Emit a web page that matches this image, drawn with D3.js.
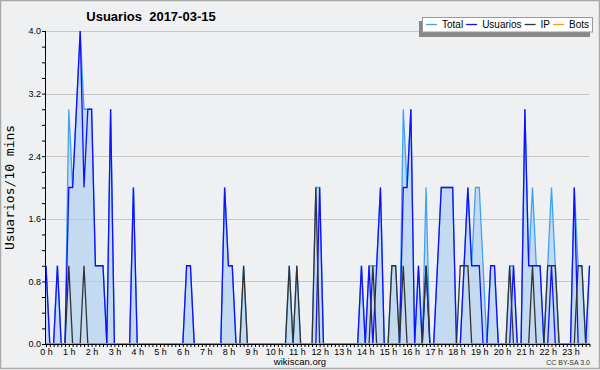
<!DOCTYPE html>
<html>
<head>
<meta charset="utf-8">
<script src="https://cdn.jsdelivr.net/npm/d3@7.9.0/dist/d3.min.js"></script>
<style>
  html, body { margin: 0; padding: 0; background: #fff; }
  svg { display: block; }
  text { font-family: "Liberation Sans", Arial, sans-serif; }
</style>
</head>
<body>
<div id="chart"></div>
<script>
// 10-minute slots, 2017-03-15 (144 slots, 0 = 00:00), one row = 4 hours
const hours = d3.range(24).map(h => h + ' h');
const usuarios = [
  1,0,0,1,0,0,2,2,3,4,2,3,3,1,1,1,0,3,0,0,0,0,0,2,
  0,0,0,0,0,0,0,0,0,0,0,0,0,1,1,0,0,0,0,0,0,0,0,2,
  1,1,0,0,0,0,0,0,0,0,0,0,0,0,0,0,0,0,0,0,0,0,0,0,
  2,0,0,0,0,0,0,0,0,0,0,1,0,1,0,1,2,0,0,0,0,0,2,2,
  3,0,1,0,1,0,0,1,2,2,2,2,0,0,1,2,1,1,1,0,0,1,1,0,
  0,0,0,1,0,0,3,1,1,1,1,0,0,1,0,0,0,0,0,2,0,0,0,1
];
const ip = [
  0,0,0,0,0,0,1,0,0,0,1,0,0,0,0,0,0,0,0,0,0,0,0,0,
  0,0,0,0,0,0,0,0,0,0,0,0,0,0,0,0,0,0,0,0,0,0,0,0,
  0,0,0,0,1,0,0,0,0,0,0,0,0,0,0,0,1,0,1,0,0,0,0,2,
  0,0,0,0,0,0,0,0,0,0,0,0,0,0,1,0,0,0,0,1,1,0,1,0,
  0,0,0,0,1,0,0,0,0,0,0,0,0,1,1,1,0,0,0,0,0,0,0,0,
  0,0,1,0,0,0,0,0,1,0,0,0,1,1,1,0,0,0,0,0,1,1,0,0
];
const total = [
  1,0,0,1,0,0,3,2,3,4,3,3,3,1,1,1,0,3,0,0,0,0,0,2,
  0,0,0,0,0,0,0,0,0,0,0,0,0,1,1,0,0,0,0,0,0,0,0,2,
  1,1,0,0,1,0,0,0,0,0,0,0,0,0,0,0,1,0,1,0,0,0,0,2,
  2,0,0,0,0,0,0,0,0,0,0,1,0,1,1,1,2,0,0,1,1,0,3,2,
  3,0,1,0,2,0,0,1,2,2,2,2,0,0,1,2,1,2,2,1,0,1,1,0,
  0,0,1,1,0,0,3,1,2,1,1,0,1,2,1,0,0,0,0,2,1,1,0,1
];
const bots = [
  0,0,0,0,0,0,0,0,0,0,0,0,0,0,0,0,0,0,0,0,0,0,0,0,
  0,0,0,0,0,0,0,0,0,0,0,0,0,0,0,0,0,0,0,0,0,0,0,0,
  0,0,0,0,0,0,0,0,0,0,0,0,0,0,0,0,0,0,0,0,0,0,0,0,
  0,0,0,0,0,0,0,0,0,0,0,0,0,0,0,0,0,0,0,0,0,0,0,0,
  0,0,0,0,0,0,0,0,0,0,0,0,0,0,0,0,0,0,0,0,0,0,0,0,
  0,0,0,0,0,0,0,0,0,0,0,0,0,0,0,0,0,0,0,0,0,0,0,0
];
const yTicks = [0, 0.8, 1.6, 2.4, 3.2, 4.0];

const series = [
  { name: 'Total', values: total, color: '#3fa2f7' },
  { name: 'Usuarios', values: usuarios, color: '#1010ff' },
  { name: 'IP', values: ip, color: '#333333' },
  { name: 'Bots', values: bots, color: '#ffa000' }
];

const width = 600, height = 370;
const margin = { top: 31, right: 10, bottom: 26, left: 46 };

const svg = d3.select('#chart').append('svg')
  .attr('width', width)
  .attr('height', height);

// background + frame
svg.append('rect')
  .attr('x', 0.5).attr('y', 0.5)
  .attr('width', width - 1).attr('height', height - 2)
  .attr('fill', '#eff0f2')
  .attr('stroke', '#a9a9a9')
  .attr('stroke-width', 1.5);

const x = d3.scaleLinear().domain([0, 143]).range([margin.left, 589.5]);
const y = d3.scaleLinear().domain([0, 4]).range([height - margin.bottom, margin.top]);

// area under total
svg.append('path')
  .datum(total)
  .attr('fill', '#a6cbee')
  .attr('fill-opacity', 0.6)
  .attr('d', d3.area().x((d, i) => x(i)).y0(y(0)).y1(d => y(d)));

// horizontal grid
svg.append('g')
  .selectAll('line')
  .data(yTicks.slice(1))
  .join('line')
  .attr('x1', x(0)).attr('x2', x(143))
  .attr('y1', d => Math.round(y(d)) + 0.5)
  .attr('y2', d => Math.round(y(d)) + 0.5)
  .attr('stroke', '#c8c8c8')
  .attr('stroke-width', 1);

// series lines
const line = d3.line().x((d, i) => x(i)).y(d => y(d));
series.forEach(s => {
  svg.append('path')
    .datum(s.values)
    .attr('fill', 'none')
    .attr('stroke', s.color)
    .attr('stroke-width', 1.3)
    .attr('d', line);
});

// x axis: tick every 10 min, label every hour
const xAxis = svg.append('g')
  .attr('transform', `translate(0,${y(0)})`)
  .call(d3.axisBottom(x)
    .tickValues(d3.range(0, 144))
    .tickSize(3)
    .tickFormat(d => d % 6 === 0 ? hours[d / 6] : ''));
xAxis.select('.domain').attr('stroke', '#000').attr('d', `M${x(0)},0.5H${x(143) + 0.5}`);
xAxis.selectAll('.tick line').attr('stroke', '#000');
xAxis.selectAll('.tick text')
  .attr('y', 5)
  .attr('fill', '#000')
  .style('font-size', '9px')
  .style('font-family', '"Liberation Sans", Arial, sans-serif');

// y axis: minor ticks every 0.2, labels every 0.8
const yAxis = svg.append('g')
  .attr('transform', `translate(${margin.left},0)`)
  .call(d3.axisLeft(y)
    .tickValues(d3.range(0, 21).map(d => d * 0.2))
    .tickSize(4)
    .tickFormat(d => yTicks.some(t => Math.abs(t - d) < 1e-6) ? d3.format('.1f')(d) : ''));
yAxis.select('.domain').attr('stroke', '#000').attr('d', `M-0.5,${y(0)}V${y(4)}`);
yAxis.selectAll('.tick line').attr('stroke', '#000');
yAxis.selectAll('.tick text')
  .attr('x', -5)
  .attr('fill', '#000')
  .style('font-size', '9px')
  .style('font-family', '"Liberation Sans", Arial, sans-serif');

// title
svg.append('text')
  .attr('x', 151).attr('y', 21)
  .attr('text-anchor', 'middle')
  .style('font-size', '13px')
  .style('font-weight', 'bold')
  .style('white-space', 'pre')
  .text('Usuarios  2017-03-15');

// y label
svg.append('text')
  .attr('transform', `translate(14,${(y(0) + y(4)) / 2}) rotate(-90)`)
  .attr('text-anchor', 'middle')
  .style('font-family', '"DejaVu Sans Mono", monospace')
  .style('font-size', '13px')
  .text('Usuarios/10 mins');

// footer
svg.append('text')
  .attr('x', 300).attr('y', 365)
  .attr('text-anchor', 'middle')
  .style('font-size', '9.5px')
  .text('wikiscan.org');
svg.append('text')
  .attr('x', 590).attr('y', 365)
  .attr('text-anchor', 'end')
  .style('font-size', '7px')
  .attr('fill', '#333')
  .text('CC BY-SA 3.0');

// legend
const legend = svg.append('g');
legend.append('rect')
  .attr('x', 419).attr('y', 21).attr('width', 171).attr('height', 16)
  .attr('fill', '#888');
legend.append('rect')
  .attr('x', 422.5).attr('y', 17.5).attr('width', 170).attr('height', 14.5)
  .attr('fill', '#fff').attr('stroke', '#999');
let lx = 426;
series.forEach(s => {
  legend.append('line')
    .attr('x1', lx).attr('x2', lx + 11)
    .attr('y1', 24.5).attr('y2', 24.5)
    .attr('stroke', s.color).attr('stroke-width', 1.3);
  const t = legend.append('text')
    .attr('x', lx + 16).attr('y', 28)
    .style('font-size', '10px')
    .text(s.name);
  lx += 16 + t.node().getComputedTextLength() + 3;
});
</script>
</body>
</html>
